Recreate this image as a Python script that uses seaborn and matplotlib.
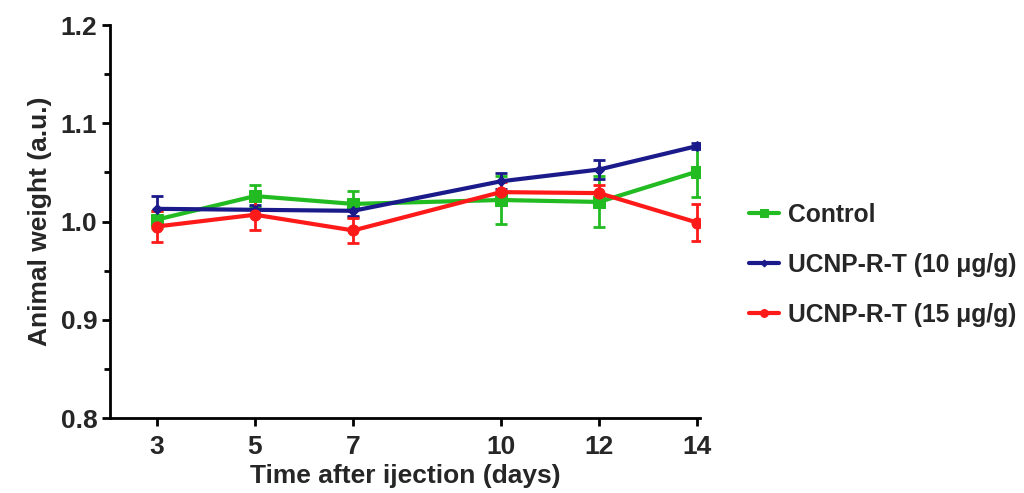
import numpy as np
import pandas as pd
import matplotlib
matplotlib.use("Agg")
import matplotlib.pyplot as plt
import seaborn as sns

# data
days = [3, 5, 7, 10, 12, 14]
groups = ["Control", "UCNP-R-T (10 μg/g)", "UCNP-R-T (15 μg/g)"]
control_mean = [1.002, 1.026, 1.018, 1.022, 1.020, 1.051]
control_err = [0.009, 0.011, 0.013, 0.024, 0.026, 0.026]
low_mean = [1.013, 1.012, 1.011, 1.041, 1.053, 1.077]
low_err = [0.013, 0.005, 0.005, 0.008, 0.010, 0.003]
high_mean = [0.995, 1.007, 0.991, 1.030, 1.029, 0.999]
high_err = [0.016, 0.016, 0.013, 0.010, 0.008, 0.019]

colors = ["#22BB22", "#1A1A8A", "#FF1A1A"]
markers = ["s", "D", "o"]
msizes = [8, 5, 8]

sns.set_theme(style="ticks")
plt.rcParams["font.family"] = ["Liberation Sans", "DejaVu Sans"]
plt.rcParams["font.weight"] = "bold"

df = pd.DataFrame({
    "day": days * 3,
    "weight": control_mean + low_mean + high_mean,
    "err": control_err + low_err + high_err,
    "group": np.repeat(groups, len(days)),
})

fig = plt.figure(figsize=(10.24, 4.93), dpi=100)
ax = fig.add_axes([0.1074, 0.152, 0.576, 0.797])

for g, c, m, ms in zip(groups, colors, markers, msizes):
    sub = df[df["group"] == g]
    ax.errorbar(sub["day"], sub["weight"], yerr=sub["err"], fmt="none",
                ecolor=c, elinewidth=2, capsize=4, capthick=2, zorder=2)
    sns.lineplot(data=sub, x="day", y="weight", ax=ax, color=c, marker=m,
                 markersize=ms, markeredgecolor=c, linewidth=3, label=g,
                 errorbar=None, zorder=3)

ax.set_xlim(2.05, 14.05)
ax.set_ylim(0.8, 1.2)
ax.set_xticks(days)
ax.set_yticks([0.8, 0.9, 1.0, 1.1, 1.2])
ax.set_yticks([0.85, 0.95, 1.05, 1.15], minor=True)
ax.set_yticklabels(["0.8", "0.9", "1.0", "1.1", "1.2"])
ax.tick_params(axis="both", which="major", direction="out", length=6, width=2,
               labelsize=19, color="black", pad=3)
ax.tick_params(axis="x", which="major", pad=6)
ax.tick_params(axis="y", which="minor", direction="out", length=4, width=2,
               color="black")
for lab in ax.get_xticklabels() + ax.get_yticklabels():
    lab.set_fontweight("bold")

for s in ["top", "right"]:
    ax.spines[s].set_visible(False)
for s in ["left", "bottom"]:
    ax.spines[s].set_linewidth(2)
    ax.spines[s].set_color("black")

ax.set_xlabel("Time after ijection (days)", fontsize=19, fontweight="bold",
              labelpad=4)
ax.set_ylabel("Animal weight (a.u.)", fontsize=19, fontweight="bold",
              labelpad=6)

leg = ax.legend(loc="center left", bbox_to_anchor=(0.71, 0.463),
                bbox_transform=fig.transFigure, frameon=False,
                fontsize=17.7, handlelength=1.2, labelspacing=1.05,
                handletextpad=0.4, markerscale=0.7)
for t in leg.get_texts():
    t.set_fontweight("bold")

fig.savefig("out.png", dpi=100)
